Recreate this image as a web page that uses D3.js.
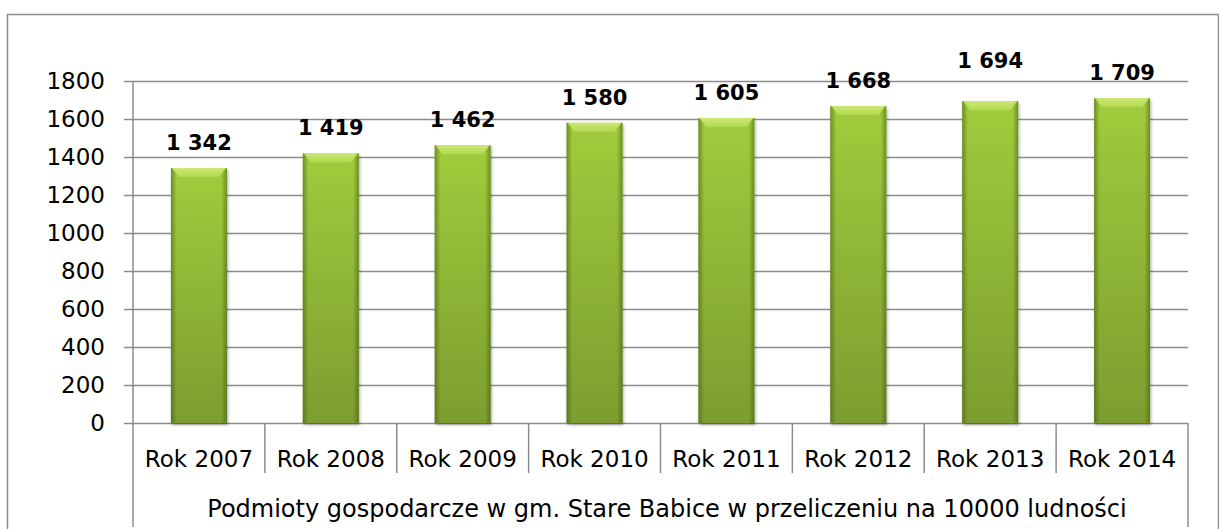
<!DOCTYPE html>
<html>
<head>
<meta charset="utf-8">
<script src="https://cdn.jsdelivr.net/npm/d3@7"></script>
<style>
  html, body { margin: 0; padding: 0; background: #fff; }
  svg { display: block; }
  text { font-family: "DejaVu Sans", sans-serif; fill: #000; }
</style>
</head>
<body>
<svg id="chart"></svg>
<script>
// data
var categories = ["Rok 2007", "Rok 2008", "Rok 2009", "Rok 2010", "Rok 2011", "Rok 2012", "Rok 2013", "Rok 2014"];
var values = [1342, 1419, 1462, 1580, 1605, 1668, 1694, 1709];
var yTicks = [0, 200, 400, 600, 800, 1000, 1200, 1400, 1600, 1800];
var groupLabel = "Podmioty gospodarcze w gm. Stare Babice w przeliczeniu na 10000 ludności";

var width = 1219, height = 529;
var plotLeft = 133, plotRight = 1188, plotTop = 81, plotBottom = 423;
var gridColor = "#8c8c8c";

var svg = d3.select("#chart").attr("width", width).attr("height", height);

// gradients for the bars
var defs = svg.append("defs");
var vg = defs.append("linearGradient").attr("id", "barV").attr("x1", 0).attr("y1", 0).attr("x2", 0).attr("y2", 1);
vg.append("stop").attr("offset", "0%").attr("stop-color", "#a8d33f");
vg.append("stop").attr("offset", "100%").attr("stop-color", "#80a232");
var hg = defs.append("linearGradient").attr("id", "barH").attr("x1", 0).attr("y1", 0).attr("x2", 1).attr("y2", 0);
hg.append("stop").attr("offset", "0%").attr("stop-color", "#3d5410").attr("stop-opacity", 0.55);
hg.append("stop").attr("offset", "10%").attr("stop-color", "#3d5410").attr("stop-opacity", 0.06);
hg.append("stop").attr("offset", "90%").attr("stop-color", "#3d5410").attr("stop-opacity", 0.06);
hg.append("stop").attr("offset", "100%").attr("stop-color", "#3d5410").attr("stop-opacity", 0.55);
var sh = defs.append("filter").attr("id", "shadow").attr("x", "-20%").attr("y", "-10%").attr("width", "140%").attr("height", "120%");
sh.append("feDropShadow").attr("dx", 1).attr("dy", 2).attr("stdDeviation", 1.5).attr("flood-color", "#000").attr("flood-opacity", 0.35);
var bev = defs.append("linearGradient").attr("id", "bevel").attr("x1", 0).attr("y1", 0).attr("x2", 0).attr("y2", 1);
bev.append("stop").attr("offset", "0%").attr("stop-color", "#d4ee7e");
bev.append("stop").attr("offset", "100%").attr("stop-color", "#b5db52");

// outer frame
svg.append("rect")
    .attr("x", 7.5).attr("y", 14.5)
    .attr("width", 1211).attr("height", 530)
    .attr("fill", "none")
    .attr("stroke", gridColor)
    .attr("stroke-width", 1.5);

var x = d3.scaleBand().domain(categories).range([plotLeft, plotRight]).paddingInner(0).paddingOuter(0);
var y = d3.scaleLinear().domain([0, 1800]).range([plotBottom, plotTop]);

// gridlines + y axis
var yAxis = d3.axisLeft(y).tickValues(yTicks).tickSize(-(plotRight - plotLeft + 9)).tickPadding(19).tickFormat(d3.format("d"));
var gy = svg.append("g").attr("transform", "translate(" + (plotLeft - 9) + ",0)").call(yAxis);
gy.select(".domain").remove();
gy.selectAll(".tick line")
    .attr("stroke", gridColor).attr("stroke-width", 1.5);
gy.selectAll(".tick text")
    .attr("x", 105 - (plotLeft - 9))
    .attr("dy", "0.32em")
    .style("font-size", "23px");

// vertical axis line down to the bottom
svg.append("line")
    .attr("x1", plotLeft).attr("x2", plotLeft)
    .attr("y1", plotTop).attr("y2", 527)
    .attr("stroke", gridColor).attr("stroke-width", 1.5);

// category separators
categories.slice(1).forEach(function(c) {
    svg.append("line")
        .attr("x1", x(c)).attr("x2", x(c))
        .attr("y1", plotBottom).attr("y2", 473)
        .attr("stroke", gridColor).attr("stroke-width", 1.5);
});
svg.append("line")
    .attr("x1", plotRight).attr("x2", plotRight)
    .attr("y1", plotBottom).attr("y2", 527)
    .attr("stroke", gridColor).attr("stroke-width", 1.5);

// bars
var bw = 56;
var bars = svg.append("g").selectAll("g").data(values).enter().append("g")
    .attr("transform", function(d, i) { return "translate(" + (x(categories[i]) + x.bandwidth() / 2 - bw / 2) + ",0)"; });

bars.append("rect")
    .attr("y", function(d) { return y(d); })
    .attr("width", bw)
    .attr("height", function(d) { return y(0) - y(d); })
    .attr("fill", "url(#barV)")
    .attr("filter", "url(#shadow)");
bars.append("rect")
    .attr("y", function(d) { return y(d); })
    .attr("width", bw)
    .attr("height", function(d) { return y(0) - y(d); })
    .attr("fill", "url(#barH)");
// top bevel
bars.append("path")
    .attr("d", function(d) {
        var t = y(d);
        return "M1," + t + "L" + (bw - 1) + "," + t + "L" + (bw - 8) + "," + (t + 9) + "L8," + (t + 9) + "Z";
    })
    .attr("fill", "url(#bevel)")
    .attr("opacity", 0.85);

// value labels
var labelNudge = {"Rok 2013": -15};
svg.append("g").selectAll("text").data(values).enter().append("text")
    .attr("x", function(d, i) { return x(categories[i]) + x.bandwidth() / 2; })
    .attr("y", function(d, i) { return y(d) - 18 + (labelNudge[categories[i]] || 0); })
    .attr("text-anchor", "middle")
    .style("font-size", "21px")
    .style("font-weight", "bold")
    .text(function(d) { return d3.format(",")(d).replace(",", " "); });

// category labels
svg.append("g").selectAll("text").data(categories).enter().append("text")
    .attr("x", function(d) { return x(d) + x.bandwidth() / 2; })
    .attr("y", 467)
    .attr("text-anchor", "middle")
    .style("font-size", "23px")
    .text(function(d) { return d; });

svg.append("text")
    .attr("x", 667)
    .attr("y", 517)
    .attr("text-anchor", "middle")
    .style("font-size", "24px")
    .text(groupLabel);
</script>
</body>
</html>
